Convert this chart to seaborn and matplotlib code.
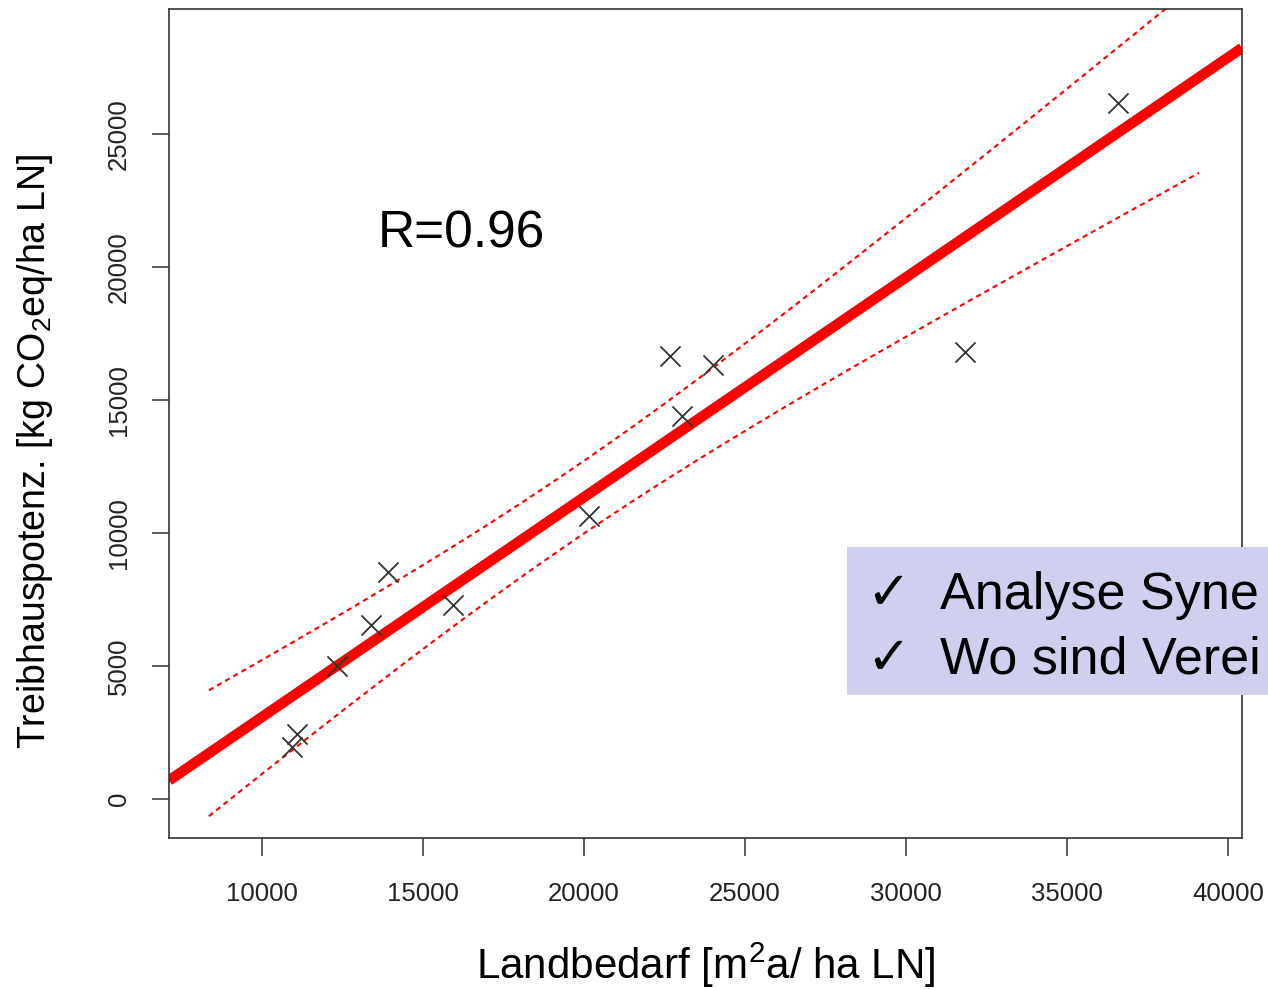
import numpy as np
import pandas as pd
import matplotlib
matplotlib.use("Agg")
import matplotlib.pyplot as plt
from matplotlib.patches import Rectangle
import seaborn as sns

# ---- data ----
landbedarf = [10932, 11087, 12329, 13385, 13913, 15932, 20155, 22671, 23043, 24006, 31832, 36584]
thg = [1961, 2451, 5015, 6523, 8522, 7277, 10633, 16667, 14404, 16327, 16817, 26169]
x_ticks = [10000, 15000, 20000, 25000, 30000, 35000, 40000]
y_ticks = [0, 5000, 10000, 15000, 20000, 25000]
r_text = "R=0.96"
box_lines = ["Analyse Syne", "Wo sind Verei"]
ci_range = [8350, 39100]
t_quant = 2.228  # t(0.975, df=10)

df = pd.DataFrame({"x": landbedarf, "y": thg})

sns.set_theme(style="white")
plt.rcParams["font.family"] = ["Liberation Sans", "DejaVu Sans"]
plt.rcParams["mathtext.fontset"] = "custom"
plt.rcParams["mathtext.rm"] = "Liberation Sans"
plt.rcParams["mathtext.it"] = "Liberation Sans"

W, H = 1268, 990
fig = plt.figure(figsize=(W / 100, H / 100), dpi=100)
L, R_, T, B = 169, 1242, 9, 838
ax = fig.add_axes([L / W, 1 - B / H, (R_ - L) / W, (B - T) / H])

ax.set_xlim(7112, 40435)
ax.set_ylim(-1466, 29699)

# regression line (fit by seaborn)
sns.regplot(data=df, x="x", y="y", scatter=False, ci=None, truncate=False,
            color="#ff0000", line_kws={"linewidth": 7.5, "solid_capstyle": "butt"}, ax=ax)

# 95% confidence band of the mean
xs = np.array(landbedarf, dtype=float)
ys = np.array(thg, dtype=float)
n = len(xs)
b1, b0 = np.polyfit(xs, ys, 1)
resid = ys - (b0 + b1 * xs)
s = np.sqrt(np.sum(resid ** 2) / (n - 2))
sxx = np.sum((xs - xs.mean()) ** 2)
grid = np.linspace(ci_range[0], ci_range[1], 200)
fit = b0 + b1 * grid
half = t_quant * s * np.sqrt(1 / n + (grid - xs.mean()) ** 2 / sxx)
for band in (fit + half, fit - half):
    ax.plot(grid, band, color="#ff0000", linewidth=1.5, linestyle=(0, (2.5, 2)))

# points
sns.scatterplot(data=df, x="x", y="y", marker="x", s=210, color="#333333",
                linewidth=1.3, ax=ax, zorder=5)

ax.set_xticks(x_ticks)
ax.set_xticklabels([str(v) for v in x_ticks])
ax.set_yticks(y_ticks)
ax.set_yticklabels([str(v) for v in y_ticks], rotation=90, va="center")
ax.tick_params(axis="x", length=13, width=1.1, color="#333333", pad=19,
               labelsize=18.5, labelcolor="#222222", direction="out", bottom=True)
ax.tick_params(axis="y", length=12.5, width=1.1, color="#333333", pad=15,
               labelsize=18.5, labelcolor="#222222", direction="out", left=True)
for sp in ax.spines.values():
    sp.set_visible(True)
    sp.set_color("#333333")
    sp.set_linewidth(1.2)

ax.set_xlabel("Landbedarf [m$^2$a/ ha LN]", fontsize=30.3, color="black")
ax.xaxis.set_label_coords(0.5, (B - 965) / (B - T))
ax.xaxis.label.set_va("center")
ax.set_ylabel("Treibhauspotenz. [kg CO$_2$eq/ha LN]", fontsize=27, color="black")
ax.yaxis.set_label_coords((35 - L) / (R_ - L), (B - 452) / (B - T))
ax.yaxis.label.set_va("center")
ax.yaxis.label.set_rotation_mode("default")

ax.text((378 - L) / (R_ - L), (B - 247) / (B - T), r_text, transform=ax.transAxes,
        fontsize=37, va="baseline", ha="left", color="black")

# lavender overlay box (clipped by figure edge)
rect = Rectangle((847 / W, 1 - 695 / H), 0.5, (695 - 547) / H, transform=fig.transFigure,
                 facecolor="#cfd0ee", edgecolor="none", zorder=2)
fig.add_artist(rect)
for i, line in enumerate(box_lines):
    yb = 1 - (609 + 65 * i) / H
    fig.text(866 / W, yb, "\u2713", fontsize=38, va="baseline", ha="left",
             family=["DejaVu Sans"], color="black", zorder=3)
    fig.text(940 / W, yb, line, fontsize=37.5, va="baseline", ha="left",
             color="black", zorder=3)

fig.savefig("out.png", dpi=100)
